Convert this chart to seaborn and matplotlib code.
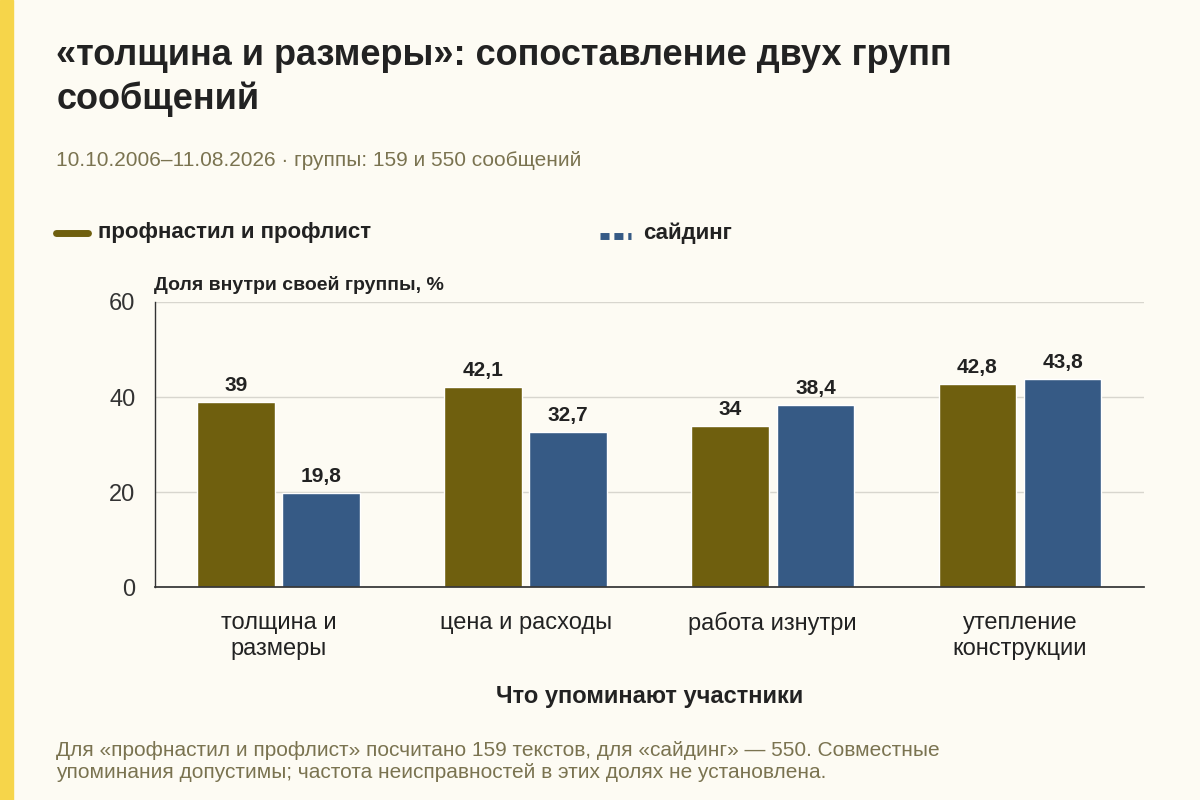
import matplotlib
matplotlib.use("Agg")
import matplotlib.pyplot as plt
import seaborn as sns
import pandas as pd
from matplotlib.lines import Line2D
from matplotlib.patches import Rectangle

categories = ["толщина и\nразмеры", "цена и расходы", "работа изнутри", "утепление\nконструкции"]
series = ["профнастил и профлист", "сайдинг"]
vals_prof = [39, 42.1, 34, 42.8]
vals_sid = [19.8, 32.7, 38.4, 43.8]

df = pd.DataFrame({
    "cat": categories * 2,
    "group": [series[0]] * 4 + [series[1]] * 4,
    "val": vals_prof + vals_sid,
})

sns.set_theme(style="white")
plt.rcParams["font.family"] = ["Liberation Sans", "DejaVu Sans"]

bg = "#FDFBF3"
colors = {"профнастил и профлист": "#6F5F0E", "сайдинг": "#365A85"}
text_dark = "#222222"

fig = plt.figure(figsize=(12, 8), dpi=100, facecolor=bg)
ax = fig.add_axes([0.129, 0.266, 0.824, 0.3565], facecolor=bg)
fig.patches.append(Rectangle((0, 0), 0.011, 1, transform=fig.transFigure, color="#F6D54A", zorder=5))

sns.barplot(data=df, x="cat", y="val", hue="group", palette=colors, ax=ax,
            width=0.69, gap=0.09, legend=False, saturation=1)

for cont in ax.containers:
    labels = [f"{v:g}".replace(".", ",") for v in cont.datavalues]
    ax.bar_label(cont, labels=labels, padding=5, fontsize=15, fontweight="bold", color=text_dark)

ax.set_ylim(0, 60)
ax.set_yticks([0, 20, 40, 60])
ax.yaxis.grid(True, color="#D8D6CE", linewidth=1)
ax.set_axisbelow(True)
for s in ["top", "right"]:
    ax.spines[s].set_visible(False)
ax.spines["left"].set_color("#333333")
ax.spines["bottom"].set_color("#333333")
ax.spines["left"].set_linewidth(1)
ax.tick_params(axis="y", labelsize=17, colors="#333333", length=0, pad=14)
ax.tick_params(axis="x", labelsize=17, colors="#222222", length=0, pad=18)
ax.set_ylabel("")
ax.set_xlabel("Что упоминают участники", fontsize=17, fontweight="bold", color=text_dark, labelpad=18)

fig.text(0.128, 0.637, "Доля внутри своей группы, %", fontsize=14, fontweight="bold", color=text_dark)

fig.text(0.047, 0.952, "«толщина и размеры»: сопоставление двух групп\nсообщений",
         fontsize=26, fontweight="bold", color=text_dark, va="top", linespacing=1.3)
fig.text(0.047, 0.80, "10.10.2006–11.08.2026 · группы: 159 и 550 сообщений",
         fontsize=15, color="#7A7350", va="center")

# legend
fig.add_artist(Line2D([0.047, 0.073], [0.709, 0.709], color=colors[series[0]], lw=5, transform=fig.transFigure))
fig.text(0.082, 0.709, series[0], fontsize=16, fontweight="bold", color=text_dark, va="center")
fig.add_artist(Line2D([0.5, 0.526], [0.705, 0.705], color=colors[series[1]], lw=5, ls=(0, (1.3, 0.7)),
                      transform=fig.transFigure))
fig.text(0.536, 0.709, series[1], fontsize=16, fontweight="bold", color=text_dark, va="center")

fig.text(0.047, 0.022, "Для «профнастил и профлист» посчитано 159 текстов, для «сайдинг» — 550. Совместные\n"
         "упоминания допустимы; частота неисправностей в этих долях не установлена.",
         fontsize=15, color="#7A7350", va="bottom", linespacing=1.25)

fig.savefig("out.png", dpi=100, facecolor=bg)
